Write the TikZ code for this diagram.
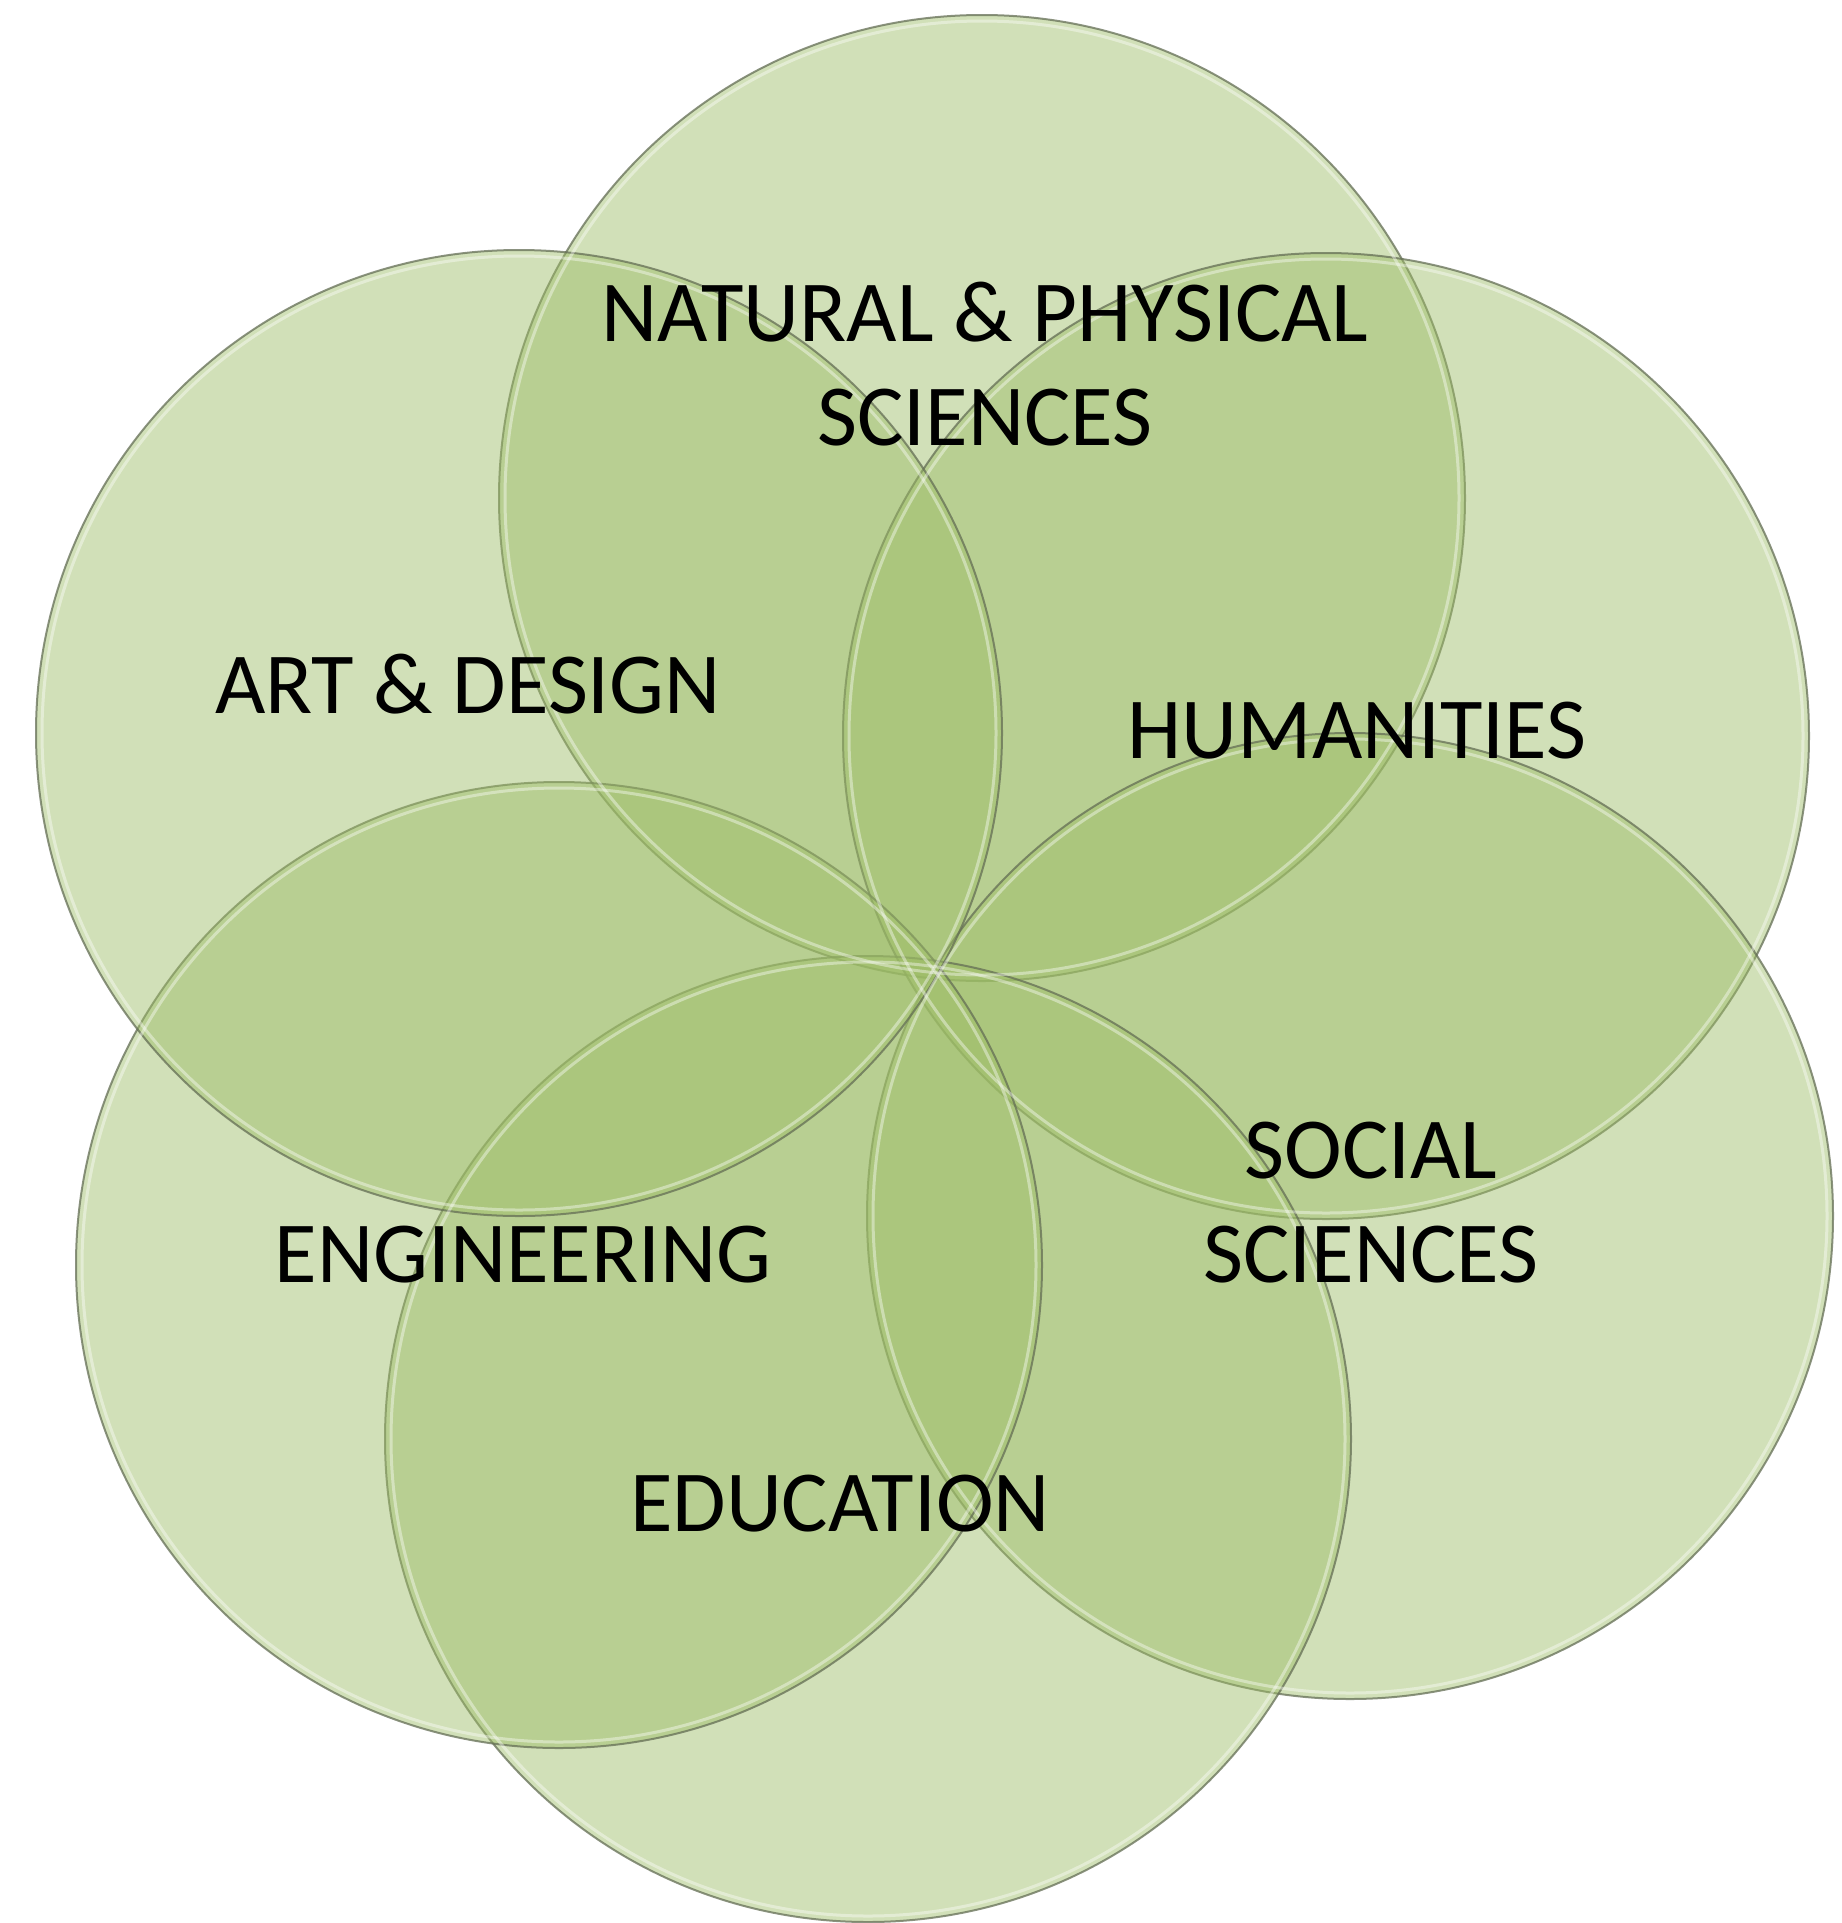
\documentclass[tikz,border=0pt]{standalone}
\usepackage{fontspec}
\setmainfont{Carlito}
\definecolor{petalfill}{RGB}{155,187,100}
\definecolor{petaledge}{RGB}{100,110,85}
\begin{document}
\begin{tikzpicture}[x=1pt,y=-1pt]
\useasboundingbox (0,0) rectangle (1842,1923);
\tikzset{
 petal/.style={circle, minimum size=966pt, inner sep=0pt, fill=petalfill, fill opacity=0.46, draw=petaledge, draw opacity=0.75, line width=2pt},
 gloss/.style={draw=white, draw opacity=0.4, line width=3pt},
 lbl/.style={font=\fontsize{87}{104}\selectfont, align=center, anchor=base, text=black}
}
\node[petal] (nps) at (982,498) {};
\node[petal] (hum) at (1326,736) {};
\node[petal] (soc) at (1350,1216) {};
\node[petal] (edu) at (868,1439) {};
\node[petal] (eng) at (559,1265) {};
\node[petal] (art) at (519,733) {};
\foreach \c in {nps,hum,soc,edu,eng,art}
  \draw[gloss] (\c.center) circle (477);
\node[lbl] (tnps) at (985,445) {NATURAL \& PHYSICAL\\SCIENCES};
\node[lbl] (tart) at (468,713) {ART \& DESIGN};
\node[lbl] (thum) at (1357,758) {HUMANITIES};
\node[lbl] (tsoc) at (1371,1282) {SOCIAL\\SCIENCES};
\node[lbl] (teng) at (523,1282) {ENGINEERING};
\node[lbl] (tedu) at (840,1531) {EDUCATION};
\end{tikzpicture}
\end{document}
